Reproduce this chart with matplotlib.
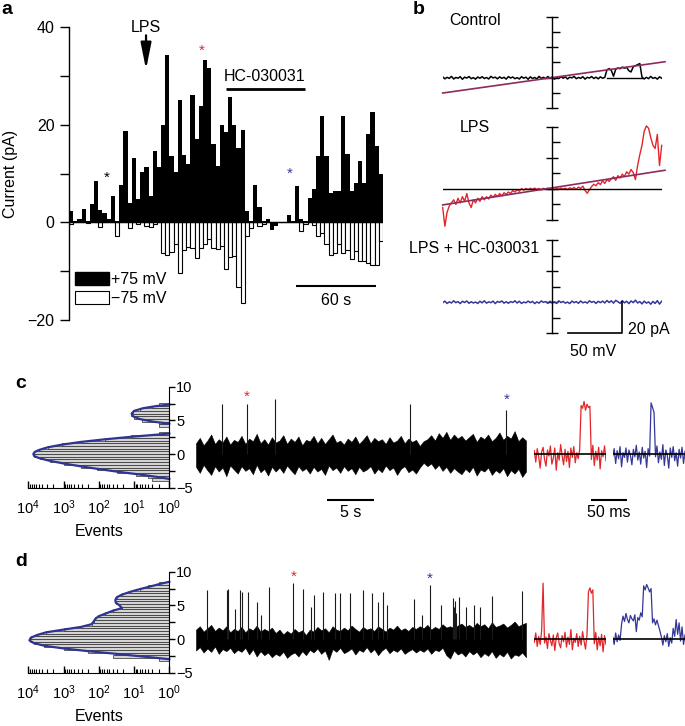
import numpy as np
import matplotlib
matplotlib.use("Agg")
import matplotlib.pyplot as plt
from matplotlib.patches import Patch
from matplotlib.ticker import MultipleLocator, LogLocator, NullFormatter

plt.rcParams["font.family"] = ["Liberation Sans", "DejaVu Sans"]
plt.rcParams["mathtext.default"] = "regular"

W, H = 685, 726
RED = "#e0262b"
BLUE = "#34379a"
NAVY = "#2d3590"
PURPLE = "#8e2a5e"

# --- panel a: binned single-channel current at +75 / -75 mV ---
a_pos = [2.3, 0.3, 0.6, 2.7, 0.3, 3.7, 8.5, 2.5, 1.9, 0.6,
         5.4, 0.3, 7.6, 18.7, 3.9, 13.1, 4.7, 10.4, 11.3, 5.3,
         14.7, 11.4, 20.0, 34.3, 13.5, 10.3, 25.0, 13.7, 12.0, 26.0,
         17.0, 23.8, 33.3, 31.6, 16.0, 11.5, 20.0, 18.6, 25.7, 20.0,
         15.2, 19.0, 2.3, 0.2, 7.6, 3.1, 0.3, 0.6, -1.5, -0.8,
         0.1, 0.1, 1.5, 0.2, 7.4, 0.6, 0.2, 4.9, 6.9, 13.5,
         21.7, 13.5, 6.0, 6.4, 6.4, 21.7, 14.0, 6.4, 8.1, 12.6,
         8.1, 18.0, 22.5, 15.6, 9.8]
a_neg = [-0.3, 0, 0, 0, -0.2, 0, 0, -1.0, 0, 0, 0, -2.7, 0, 0, -1.1, 0, -0.4, 0, -0.8, -1.0, -0.3, 0,
         -6.3, -6.7, -6.0, -4.5, -10.4, -5.6, -5.0, -5.2, -7.4, -5.2, -4.5, -3.5, -5.2, -5.4, -4.8,
         -9.5, -7.2, -6.9, -13.2, -16.6,
         -2.8, -1.1, 0, -0.8, -0.3, 0, 0, 0, 0, 0, 0, 0, 0, -1.8, -0.4,
         0, -0.6, -2.8, -2.1, -4.5, -6.6, -6.3, -4.5, -6.3, -5.6, -7.6, -5.9, -8.0, -8.0, -8.3, -8.7, -8.8, -3.8]

# --- panel b: ramp currents (pA) vs voltage (mV), one sample every 2 mV ---
ramp_v = np.arange(-100, 101, 2)
ctrl_i = [0.6, -0.7, 0.3, -0.4, 0.9, -0.8, 0.2, -0.3, 0.7, -1.0,
          0.4, -0.2, 0.8, -0.6, 0.1, -0.9, 0.5, -0.3, 0.7, -0.5,
          0.2, -0.8, 0.9, -0.1, 0.4, -0.7, 0.6, -0.4, 0.3, -0.9,
          0.8, -0.2, 0.5, -0.6, 0.1, -0.8, 0.7, -0.3, 0.4, -1.0,
          0.6, -0.5, 0.2, -0.7, 0.9, -0.4, 0.3, -0.6, 0.8, -0.2,
          0.5, -0.9, 0.1, -0.5, 0.7, -0.3, 0.6, -0.8, 0.4, -0.1,
          0.9, -0.6, 0.2, -0.4, 0.7, -0.9, 0.3, -0.2, 0.8, -0.5,
          0.4, -0.7, 0.6, -0.3, 0.2,
          5.2, 6.0, 4.8, 1.0, 5.6, 6.4, 5.9, 7.0, 6.3, 6.8, 4.6, 3.8, 7.2, 7.9, 8.6, 9.3,
          0.5, -0.8, 0.3, -0.6, 0.9, -0.4, 0.2, -0.9, 0.6, -0.3]
lps_i = [-12, -24, -15, -11, -9, -7, -10, -6, -9, -5,
         -8, -3, -9, -12, -7, -9, -6, -8, -5, -7,
         -5, -6.5, -4, -5.5, -3.5, -5, -3, -4.5, -2.5, -3.5,
         -2, -3, -1, -2, -0.5, -1.5, 0.2, -0.8, 0.3, -0.5,
         0.4, -0.3, 0.5, -0.4, 0.3, -0.6, 0.4, -0.2, 0.5, -0.4,
         0.2, -0.5, 0.4, -0.3, 0.6, -0.2, 0.5, -0.4, 0.7, 0.1,
         0.9, -0.2, 1.2, 0.3, 1.8, -1.0, -2.8, -0.5, 1.5, 3.0,
         2.0, 4.0, 2.8, 5.2, 3.5, 6.0, 4.8, 6.5, 7.8, 5.5,
         8.5, 7.0, 9.5, 8.0, 11.0, 9.5, 12.5, 10.5, 6.0, 15.0,
         22.0, 28.0, 37.0, 40.5, 39.0, 33.0, 28.0, 26.0, 35.0, 15.0,
         28.0]
hc_i = [-0.4, 0.7, -0.8, 0.2, -0.5, 0.9, -0.3, 0.4, -0.9, 0.6,
        -0.2, 0.8, -0.7, 0.3, -0.5, 0.1, -0.8, 0.6, -0.4, 0.9,
        -0.6, 0.2, -0.3, 0.7, -0.9, 0.5, -0.1, 0.8, -0.6, 0.3,
        -0.7, 0.4, -0.2, 0.9, -0.5, 0.6, -0.8, 0.1, -0.4, 0.7,
        -0.3, 0.5, -0.9, 0.2, -0.6, 0.8, -0.1, 0.4, -0.7, 0.6,
        -0.5, 0.3, -0.8, 0.9, -0.2, 0.5, -0.6, 0.1, -0.9, 0.7,
        -0.3, 0.4, -0.7, 0.8, -0.4, 0.2, -0.6, 0.9, -0.1, 0.5,
        -0.8, 0.6, -0.3, 0.7, -0.5, 1.1, -0.2, 0.9, -0.6, 1.2,
        0.3, -0.7, 1.0, -0.4, 0.6, -0.9, 0.8, -0.3, 1.3, -0.5,
        0.4, -1.1, 0.7, -0.6, 0.2, -1.3, 0.5, -0.8, 1.0, -1.2,
        0.6]
fit_v = [-100, 103]
fit_ctrl = [-10.0, 10.5]
fit_lps = [-10.3, 12.0]

# --- panels c, d: all-points histograms (0.4 pA bins, events) and their fits ---
c_hist_counts = [3, 4, 9, 30, 110, 330, 950, 2400, 4800, 7000,
                 6700, 4900, 2700, 1100, 320, 65, 12, 2, 0, 0,
                 2, 2, 6, 10, 12, 11, 7, 3, 2]
c_fit_main_i = [-3.7, -3.4, -3.0, -2.6, -2.2, -1.8, -1.4, -1.0, -0.6, -0.3,
                0.0, 0.3, 0.6, 1.0, 1.4, 1.8, 2.2, 2.6, 2.9, 3.05]
c_fit_main_n = [1, 2.2, 8, 32, 110, 350, 1000, 2500, 5000, 6800,
                7200, 6600, 5000, 2800, 1100, 320, 63, 10, 2, 1]
c_fit_open_i = [4.5, 4.8, 5.2, 5.6, 6.0, 6.4, 6.8, 7.1, 7.35]
c_fit_open_n = [1, 2.8, 7, 10.7, 11.7, 10, 5.6, 2.5, 1]

d_hist_counts = [2, 40, 35, 200, 1000, 3500, 7000, 9200, 8500, 5600,
                 3100, 1000, 320, 160, 140, 130, 100, 65, 40, 22,
                 25, 33, 34, 30, 22, 13, 7, 4, 2]
d_fit_i = [-3.0, -2.8, -2.6, -2.2, -1.8, -1.4, -1.0, -0.6, -0.2, 0.2,
           0.6, 1.0, 1.4, 1.8, 2.2, 2.6, 3.0, 3.4, 3.8, 4.2,
           4.6, 5.0, 5.4, 5.8, 6.2, 6.6, 7.0, 7.4, 7.8, 8.2, 8.5]
d_fit_n = [1, 2.3, 5.6, 32, 200, 1000, 3500, 7000, 9300, 8500,
           5600, 3100, 1000, 320, 160, 140, 125, 100, 63, 40,
           22, 26, 33, 34, 31, 22, 13, 7, 3.5, 1.8, 1]

# --- panels c, d: 35 s records (noise envelope + opening spikes) ---
trace_len_s = 35.3
c_upper = [1.6, 2.4, 1.3, 2.0, 2.9, 1.5, 2.2, 1.7, 2.6, 1.4,
           2.1, 1.8, 2.7, 1.5, 2.3, 1.9, 3.0, 1.6, 2.2, 1.4,
           2.5, 1.7, 2.0, 2.8, 1.5, 2.3, 1.8, 2.6, 1.3, 2.1,
           1.9, 2.7, 1.6, 2.4, 1.5, 2.2, 2.9, 1.7, 2.0, 1.4,
           2.3, 1.8, 2.6, 1.5, 2.1, 2.8, 1.6, 2.4, 1.9, 2.2,
           1.5, 2.5, 1.7, 2.0, 2.7, 1.6, 2.3, 1.8, 2.1, 1.2,
           1.9, 2.2, 2.8, 2.0, 3.1, 2.4, 3.3, 2.1, 2.9, 2.3,
           2.7, 2.0, 2.5, 3.0, 1.8, 2.6, 2.2, 2.9, 1.9, 2.4,
           3.2, 2.1, 2.7, 2.3, 3.4, 1.9, 2.5, 2.0]
c_lower = [-1.9, -2.8, -1.6, -2.4, -3.1, -1.8, -2.6, -2.0, -3.3, -1.7,
           -2.3, -2.9, -1.8, -2.5, -2.1, -3.0, -1.6, -2.7, -2.2, -3.2,
           -1.9, -2.6, -2.0, -2.8, -1.7, -2.4, -3.0, -1.8, -2.5, -2.1,
           -2.9, -1.9, -2.6, -2.2, -3.1, -1.7, -2.4, -2.0, -2.8, -1.8,
           -2.5, -2.1, -3.0, -1.9, -2.6, -2.3, -1.8, -2.9, -2.2, -2.7,
           -1.7, -2.4, -2.0, -3.1, -2.2, -1.8, -2.7, -2.3, -2.9, -2.0,
           -1.3, -1.8, -1.4, -2.2, -1.6, -2.5, -1.9, -2.8, -2.1, -2.6,
           -3.0, -2.2, -2.7, -1.9, -3.2, -2.3, -2.6, -2.0, -3.1, -2.4,
           -2.8, -2.1, -3.3, -2.4, -2.9, -2.2, -3.4, -2.6]
c_spike_t = [2.78, 5.43, 8.46, 22.9, 33.2]
c_spike_h = [7.5, 7.5, 8.1, 7.4, 6.5]

d_upper = [1.4, 1.9, 1.1, 1.6, 2.1, 1.2, 1.7, 1.3, 1.9, 1.0,
           1.5, 1.2, 1.8, 1.0, 1.6, 1.3, 2.0, 1.1, 1.5, 1.2,
           1.7, 0.9, 1.4, 0.7, 1.2, 0.8, 1.5, 1.0, 1.3, 0.6,
           1.4, 1.1, 1.8, 1.3, 1.6, 1.0, 1.9, 1.4, 1.2, 1.7,
           1.3, 2.0, 1.5, 1.1, 1.8, 1.4, 1.6, 1.2, 1.9, 1.5,
           1.1, 1.7, 1.4, 2.0, 1.3, 1.6, 1.2, 1.8, 1.5, 1.9,
           1.6, 2.1, 1.4, 1.8, 1.5, 2.2, 1.7, 1.9, 1.6, 2.0,
           2.3, 1.8, 2.1, 1.7, 2.4, 1.9, 2.2, 1.6, 2.5, 1.8,
           2.0, 2.3, 1.7, 2.1, 2.6, 1.9, 2.2, 2.4]
d_lower = [-1.7, -1.2, -2.0, -1.4, -1.9, -1.1, -2.2, -1.5, -1.8, -1.3,
           -2.1, -1.6, -1.9, -1.3, -2.3, -1.5, -2.6, -1.8, -2.4, -2.0,
           -2.7, -2.2, -2.5, -1.9, -2.8, -2.3, -2.0, -2.6, -1.8, -2.4,
           -1.6, -2.0, -1.4, -2.2, -1.7, -3.1, -1.5, -1.9, -1.3, -2.1,
           -1.8, -1.4, -2.3, -1.6, -1.9, -1.2, -2.0, -1.5, -2.4, -1.7,
           -1.3, -2.1, -1.6, -1.9, -1.4, -2.2, -1.8, -1.5, -2.0, -1.6,
           -1.9, -1.4, -2.2, -1.6, -1.8, -1.3, -2.4, -2.9, -1.7, -2.3,
           -2.0, -2.6, -1.8, -2.3, -1.9, -2.7, -2.1, -2.5, -1.8, -2.8,
           -2.2, -2.6, -1.9, -2.9, -2.3, -2.5, -2.0, -2.7]
d_spike_t = [1.14, 3.28, 3.46, 4.17, 4.71, 4.89, 5.53, 6.49, 6.92, 7.81,
             10.41, 11.41, 12.3, 12.66, 13.62, 14.87, 15.4, 16.47, 17.83, 18.8,
             19.5, 20.05, 20.48, 23.37, 24.16, 25.05, 26.2, 27.5, 27.6, 27.7,
             27.85, 28.17, 28.9, 29.75, 30.4, 31.7, 34.85]
d_spike_h = [7.3, 7.3, 7.4, 4.5, 7.3, 7.0, 7.0, 5.5, 3.6, 7.8,
             8.3, 7.5, 4.8, 6.6, 7.0, 6.8, 6.8, 6.8, 7.3, 6.8,
             5.5, 7.0, 5.0, 5.9, 3.6, 8.0, 5.1, 6.1, 4.8, 5.6,
             3.9, 6.3, 4.7, 5.0, 4.7, 6.4, 7.1]

# --- expanded openings (2 ms per sample, 98 ms each) ---
inset_dt_ms = 2.0
c_red = [0.5, -1.2, 0.8, -0.4, -2.1, 0.3, 1.0, -0.8, -1.8, 0.6,
         -0.3, 1.2, -1.5, -0.6, 0.9, -2.4, 0.2, -0.9, 1.4, -0.2,
         -1.6, 0.7, -1.1, 0.4, -2.0, 0.9, -0.5, 1.1, -1.3, 0.2,
         -0.7, 0.6, 7.2, 6.8, 7.8, 6.5, 7.4, 6.9, 7.1, -0.8,
         1.3, -1.7, 0.4, -0.9, 1.0, -2.2, 0.5, -0.4, 1.2, -1.0]
c_blue = [-0.3, 0.8, -1.4, 0.5, -0.7, 1.1, -1.9, 0.2, -0.5, 0.9,
          -1.2, 0.6, -0.2, -1.6, 0.7, -0.4, 1.3, -0.9, 0.3, -1.5,
          1.0, -0.6, 0.4, -2.0, 0.8, -0.3, 7.6, 6.9, 6.2, -0.4,
          1.2, -1.3, 0.3, -0.8, 1.4, -1.7, 0.6, -0.2, -2.1, 0.9,
          -0.5, 1.1, -1.0, 0.2, -1.8, 0.7, -0.6, 1.0, -1.4, 0.4]
d_red = [-0.5, 0.9, -1.1, 0.4, -0.8, 1.2, 8.3, -0.6, 0.3, -1.4,
         0.8, -0.2, -1.0, 0.6, -1.7, 0.2, 0.9, -0.7, -1.3, 0.5,
         -0.4, 1.0, -1.2, 0.3, -0.8, 1.4, -1.6, 0.1, -0.5, 0.8,
         -1.1, 0.4, -0.9, 1.1, -0.3, -1.5, 0.6, 7.0, 7.6, 6.8,
         7.3, -0.7, 1.0, -1.6, 0.3, -1.0, 0.7, -1.9, 0.5, -0.8]
d_blue = [0.3, -0.8, 0.9, -0.4, 0.6, -0.2, 2.2, 3.4, 2.6, 3.8,
          2.9, 2.4, 3.5, 3.0, 2.7, 3.6, 1.1, 3.2, 2.8, 3.9,
          3.3, 7.9, 7.3, 8.1, 7.6, 7.0, 7.5, 2.4, 3.0, 2.1,
          2.8, 2.0, 1.2, 0.3, -0.9, 0.5, -0.4, 0.8, -1.1, 0.2,
          -0.6, 1.6, 0.4, 2.9, 0.7, 2.4, -0.3, 1.8, -0.8, 0.6]


def box(x0, y0, x1, y1):
    """Pixel box (origin top-left) -> figure-fraction rect."""
    return [x0 / W, 1 - y1 / H, (x1 - x0) / W, (y1 - y0) / H]


fig = plt.figure(figsize=(W / 100, H / 100), dpi=100)

# ================= a =================
ax = fig.add_axes(box(69, 27, 383, 320))
xb = np.arange(len(a_pos))
ax.bar(xb, a_neg, width=1, align="edge", facecolor="white", edgecolor="black", linewidth=0.8)
ax.bar(xb, a_pos, width=1, align="edge", color="black", linewidth=0)
ax.plot([0, len(a_pos)], [0, 0], color="black", lw=1)
ax.set_xlim(0, len(a_pos))
ax.set_ylim(-20, 40)
for side in ["top", "right", "bottom"]:
    ax.spines[side].set_visible(False)
ax.spines["left"].set_linewidth(1)
ax.set_xticks([])
ax.yaxis.set_major_locator(MultipleLocator(20))
ax.yaxis.set_minor_locator(MultipleLocator(10))
ax.tick_params(axis="y", which="both", direction="out", length=6.5, width=1, labelsize=11.5, pad=4)
ax.set_ylabel("Current (pA)", fontsize=11.5)
ax.yaxis.set_label_coords(-51 / 314, 0.5)

ax.annotate("", xy=(18.4, 31.3), xytext=(18.4, 38.3),
            arrowprops=dict(arrowstyle="-|>,head_length=0.8,head_width=0.16", color="black",
                            lw=1.6, shrinkA=0, shrinkB=0, mutation_scale=20))
ax.text(18.4, 40.0, "LPS", ha="center", va="center", fontsize=11.5)
ax.text(46.7, 29.8, "HC-030031", ha="center", va="center", fontsize=11.5)
ax.plot([37.5, 56.3], [27.4, 27.4], color="black", lw=2, solid_capstyle="butt")
ax.text(9.0, 9.2, "*", color="black", ha="center", va="center", fontsize=11)
ax.text(31.8, 35.1, "*", color=RED, ha="center", va="center", fontsize=11)
ax.text(52.7, 9.9, "*", color=BLUE, ha="center", va="center", fontsize=11)
ax.plot([54.3, 73.3], [-13.1, -13.1], color="black", lw=1.5, solid_capstyle="butt")
ax.text(63.8, -16.0, "60 s", ha="center", va="center", fontsize=11.5)
ax.legend([Patch(facecolor="black", edgecolor="black"),
           Patch(facecolor="white", edgecolor="black", linewidth=0.8)],
          ["+75 mV", "\u221275 mV"], loc="lower left", bbox_to_anchor=(6 / 314, 14 / 293),
          frameon=False, handlelength=2.1, handleheight=0.9, handletextpad=0.15,
          labelspacing=0.25, borderpad=0, borderaxespad=0, fontsize=11.5)

# ================= b =================
b_rows = [(16.7, 108.3), (126.7, 220.0), (240.0, 333.3)]
b_axes = []
for top, bottom in b_rows:
    bx = fig.add_axes(box(442.7, top, 661.7, bottom))
    bx.set_xlim(-100, 100)
    bx.set_ylim(-20, 40)
    for side in ["top", "right", "bottom"]:
        bx.spines[side].set_visible(False)
    bx.spines["left"].set_position(("data", 0))
    bx.spines["left"].set_linewidth(1)
    bx.set_xticks([])
    bx.yaxis.set_major_locator(MultipleLocator(20))
    bx.yaxis.set_minor_locator(MultipleLocator(10))
    bx.tick_params(axis="y", which="major", direction="inout", length=9, width=1, labelleft=False)
    bx.tick_params(axis="y", which="minor", direction="in", length=5.5, width=1)
    bx.patch.set_alpha(0)
    b_axes.append(bx)

bc, bl, bh = b_axes
bc.plot(ramp_v, ctrl_i, color="black", lw=1.1)
bc.plot([50, 81.6], [0, 0], color="black", lw=1)
bc.plot(fit_v, fit_ctrl, color=PURPLE, lw=1.2, clip_on=False)
bc.text(-70.5, 37.8, "Control", ha="center", va="center", fontsize=11.5)

bl.plot(ramp_v, lps_i, color=RED, lw=1, clip_on=False)
bl.plot([-100, 100], [0, 0], color="black", lw=1)
bl.plot(fit_v, fit_lps, color=PURPLE, lw=1.2, clip_on=False)
bl.text(-70.5, 39.4, "LPS", ha="center", va="center", fontsize=11.5)

bh.plot(ramp_v, hc_i, color=BLUE, lw=1.1)
bh.text(-71.4, 34.7, "LPS + HC-030031", ha="center", va="center", fontsize=11.5)
bh.plot([14, 64, 64], [-20, -20, 0], color="black", lw=1.2, clip_on=False)
bh.text(69, -17.5, "20 pA", ha="left", va="center", fontsize=11.5)
bh.text(37, -32, "50 mV", ha="center", va="center", fontsize=11.5)


# ================= c, d =================
def hist_axes(top, bottom, counts, first_center, fits):
    hx = fig.add_axes(box(28.3, top, 169.3, bottom))
    centers = first_center + 0.4 * np.arange(len(counts))
    counts = np.asarray(counts, dtype=float)
    keep = counts > 1
    hx.barh(centers[keep], counts[keep] - 1, left=1, height=0.4, color="#d4d4d4",
            edgecolor="#2a2a2a", linewidth=0.5)
    for fi, fn in fits:
        hx.plot(fn, fi, color=NAVY, lw=1.6, clip_on=False)
    hx.set_xscale("log")
    hx.set_xlim(1e4, 1)
    hx.set_ylim(-5, 10)
    hx.spines["left"].set_visible(False)
    hx.spines["top"].set_visible(False)
    hx.yaxis.tick_right()
    hx.yaxis.set_major_locator(MultipleLocator(5))
    hx.yaxis.set_minor_locator(MultipleLocator(2.5))
    hx.tick_params(axis="y", which="both", direction="out", length=4, width=1, labelsize=10.5, pad=1)
    hx.xaxis.set_major_locator(LogLocator(base=10, numticks=10))
    hx.xaxis.set_minor_locator(LogLocator(base=10, subs=np.arange(2, 10), numticks=10))
    hx.xaxis.set_minor_formatter(NullFormatter())
    hx.tick_params(axis="x", which="major", direction="in", length=5, width=1, labelsize=10.5, pad=8)
    hx.tick_params(axis="x", which="minor", direction="in", length=3, width=0.8)
    hx.set_xlabel("Events", fontsize=11.5, labelpad=5)
    return hx


def trace_axes(top, bottom, upper, lower, spike_t, spike_h):
    tx = fig.add_axes(box(196, top, 526, bottom))
    t = np.linspace(0, trace_len_s, len(upper))
    tx.fill_between(t, lower, upper, color="black", lw=0.4)
    tx.vlines(spike_t, 0, spike_h, color="#1a1a1a", lw=0.8)
    tx.set_xlim(0, trace_len_s)
    tx.set_ylim(-5, 10)
    tx.axis("off")
    return tx


def inset_axes(left, right, top, bottom, values, color):
    ix = fig.add_axes(box(left, top, right, bottom))
    t = inset_dt_ms * np.arange(len(values))
    ix.plot(t, values, color=color, lw=0.9)
    ix.plot([0, t[-1]], [0, 0], color="black", lw=1.2)
    ix.set_xlim(0, 98)
    ix.set_ylim(-5, 10)
    ix.axis("off")
    return ix


# c
hist_axes(386.7, 487.7, c_hist_counts, -3.8,
          [(c_fit_main_i, c_fit_main_n), (c_fit_open_i, c_fit_open_n)])
tc = trace_axes(386.7, 487.7, c_upper, c_lower, c_spike_t, c_spike_h)
tc.text(5.43, 8.5, "*", color=RED, ha="center", va="center", fontsize=11)
tc.text(33.2, 8.1, "*", color=BLUE, ha="center", va="center", fontsize=11)
tc.plot([14.06, 19.06], [-6.8, -6.8], color="black", lw=1.5, clip_on=False, solid_capstyle="butt")
tc.text(16.56, -8.7, "5 s", ha="center", va="center", fontsize=11.5)
rc = inset_axes(534.3, 606, 386.7, 487.7, c_red, RED)
inset_axes(612.7, 685, 386.7, 487.7, c_blue, BLUE)
rc.plot([77.1, 127.1], [-6.8, -6.8], color="black", lw=1.5, clip_on=False, solid_capstyle="butt")
rc.text(102, -8.7, "50 ms", ha="center", va="center", fontsize=11.5)

# d
hist_axes(571.7, 672.7, d_hist_counts, -3.0, [(d_fit_i, d_fit_n)])
td = trace_axes(571.7, 672.7, d_upper, d_lower, d_spike_t, d_spike_h)
td.text(10.41, 9.3, "*", color=RED, ha="center", va="center", fontsize=11)
td.text(25.05, 9.0, "*", color=BLUE, ha="center", va="center", fontsize=11)
inset_axes(534.3, 606, 571.7, 672.7, d_red, RED)
inset_axes(612.7, 685, 571.7, 672.7, d_blue, BLUE)

# panel letters
for letter, (px, py) in {"a": (1, 1), "b": (413, 1), "c": (15, 375), "d": (15, 553)}.items():
    fig.text(px / W, 1 - py / H, letter, fontsize=14, fontweight="bold", ha="left", va="top")

fig.savefig("out.png", dpi=100)
